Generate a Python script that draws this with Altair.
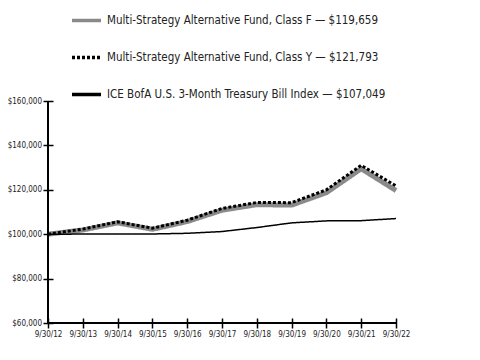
import altair as alt
import pandas as pd

dates = ["9/30/12", "9/30/13", "9/30/14", "9/30/15", "9/30/16", "9/30/17",
         "9/30/18", "9/30/19", "9/30/20", "9/30/21", "9/30/22"]
series_names = [
    "Multi-Strategy Alternative Fund, Class F — $119,659",
    "Multi-Strategy Alternative Fund, Class Y — $121,793",
    "ICE BofA U.S. 3-Month Treasury Bill Index — $107,049",
]
class_f = [100000, 101900, 105100, 102200, 105700, 110800, 113300, 113100, 118700, 129500, 119659]
class_y = [100000, 102300, 105600, 102700, 106300, 111600, 114300, 114200, 120000, 131000, 121793]
index_vals = [100000, 100050, 100080, 100100, 100400, 101200, 103000, 105100, 106000, 106100, 107049]
y_ticks = [60000, 80000, 100000, 120000, 140000, 160000]
line_widths = [5, 3, 1.5]

rows = []
for name, vals in zip(series_names, [class_f, class_y, index_vals]):
    for d, v in zip(dates, vals):
        rows.append({"date": d, "value": v, "series": name})
df = pd.DataFrame(rows)

FONT = "DejaVu Sans Condensed"
W, H = 348, 222

legend = alt.Legend(
    title=None, orient="none", legendX=22, legendY=-97, direction="vertical",
    symbolType="stroke", symbolSize=841, symbolStrokeWidth=3.5, labelFont=FONT,
    labelFontSize=11.5, labelColor="#222222", labelLimit=400, rowPadding=13,
    labelOffset=4, symbolStrokeColor="black",
)

x_enc = alt.X("date:O", sort=dates, scale=alt.Scale(type="point", padding=0),
              axis=alt.Axis(title=None, labelAngle=0, domain=False, tickSize=10, offset=-5,
                            tickColor="black", tickWidth=1.5, labelFont=FONT, labelFontSize=8,
                            labelColor="#222222", labelPadding=2, grid=False))
y_enc = alt.Y("value:Q", scale=alt.Scale(domain=[60000, 160000], nice=False),
              axis=alt.Axis(title=None, values=y_ticks, format="$,.0f", domain=False,
                            tickSize=10, offset=-5, tickColor="black", tickWidth=1.5,
                            labelFont=FONT, labelFontSize=8, labelColor="#222222",
                            labelPadding=1.5, grid=False))
color_scale = alt.Scale(domain=series_names, range=["#8a8a8a", "#000000", "#000000"])
dash_scale = alt.Scale(domain=series_names, range=[[1, 0], [3, 2], [1, 0]])

# legend-only layer (draws no data)
legend_layer = alt.Chart(df).transform_filter("datum.value < 0").mark_line(strokeWidth=3.5).encode(
    x=x_enc, y=y_enc,
    color=alt.Color("series:N", sort=series_names, scale=color_scale, legend=legend),
    strokeDash=alt.StrokeDash("series:N", sort=series_names, scale=dash_scale, legend=legend),
)

layers = [legend_layer]
for name, sw in zip(series_names, line_widths):
    layers.append(
        alt.Chart(df).transform_filter(alt.datum.series == name).mark_line(strokeWidth=sw).encode(
            x=x_enc, y=y_enc,
            color=alt.Color("series:N", sort=series_names, scale=color_scale, legend=legend),
            strokeDash=alt.StrokeDash("series:N", sort=series_names, scale=dash_scale, legend=legend),
        )
    )

yaxis_line = alt.Chart(df).mark_rule(color="black", strokeWidth=1.5).encode(
    x=alt.value(0), y=alt.value(0), y2=alt.value(H))
xaxis_line = alt.Chart(df).mark_rule(color="black", strokeWidth=1.5).encode(
    x=alt.value(0), x2=alt.value(W), y=alt.value(H))

chart = alt.layer(*layers, yaxis_line, xaxis_line).properties(
    width=W, height=H,
    autosize=alt.AutoSizeParams(type="none"),
    padding={"left": 40, "top": 93, "right": 20, "bottom": 25},
).configure_view(stroke=None)

chart.save("out.html", embed_options={"renderer": "svg", "actions": False})
